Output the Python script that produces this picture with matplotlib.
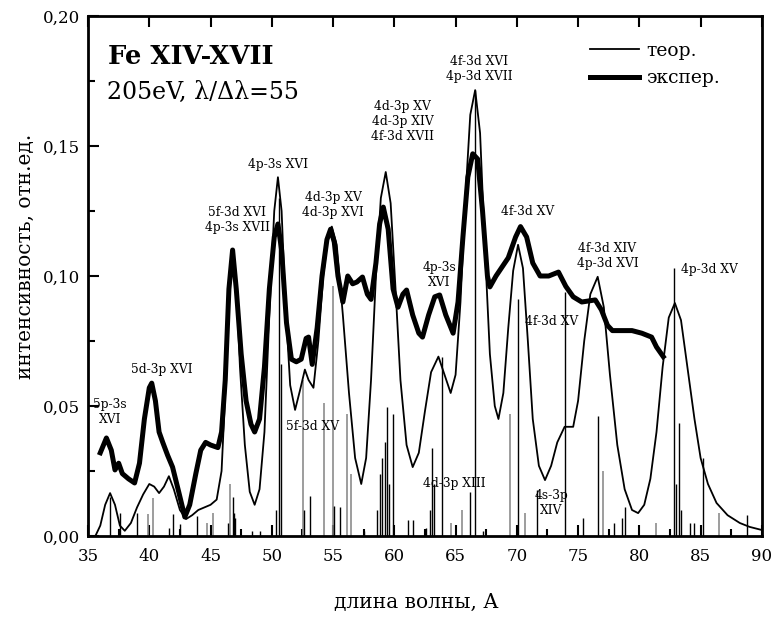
import numpy as np
import matplotlib
matplotlib.use("Agg")
import matplotlib.pyplot as plt
from matplotlib.ticker import MultipleLocator, FuncFormatter

plt.rcParams['font.family'] = ['DejaVu Serif']

# theoretical spectrum (thin line)
theor_wl = [35.6, 36.0, 36.4, 36.8, 37.2, 37.6, 38.0, 38.5, 39.0, 39.5, 40.0, 40.4, 40.8, 41.2, 41.6,
            42.0, 42.5, 43.0, 43.5, 44.0, 44.5, 45.0, 45.5, 45.9, 46.2, 46.5, 46.8, 47.1, 47.4, 47.8,
            48.2, 48.6, 49.0, 49.4, 49.8, 50.2, 50.5, 50.8, 51.1, 51.5, 51.9, 52.3, 52.7, 53.0, 53.4,
            53.8, 54.2, 54.6, 54.9, 55.3, 55.8, 56.3, 56.8, 57.3, 57.7, 58.1, 58.5, 58.9, 59.3, 59.7,
            60.1, 60.5, 61.0, 61.5, 62.0, 62.5, 63.0, 63.6, 64.1, 64.6, 65.0, 65.4, 65.8, 66.2, 66.6,
            67.0, 67.4, 67.8, 68.2, 68.5, 68.9, 69.3, 69.7, 70.1, 70.5, 70.9, 71.3, 71.8, 72.3, 72.8,
            73.3, 73.9, 74.6, 75.0, 75.5, 76.0, 76.6, 77.1, 77.6, 78.2, 78.8, 79.4, 79.9, 80.4, 80.9,
            81.4, 81.9, 82.4, 82.9, 83.4, 84.1, 84.5, 85.0, 85.6, 86.3, 87.2, 88.2, 89.0, 90.0]
theor_int = [0.000, 0.004, 0.012, 0.0165, 0.012, 0.004, 0.002, 0.005, 0.011, 0.016, 0.020, 0.019, 0.0165, 0.019, 0.023,
             0.018, 0.010, 0.0065, 0.008, 0.010, 0.011, 0.012, 0.014, 0.025, 0.055, 0.095, 0.110, 0.097, 0.065, 0.035,
             0.017, 0.012, 0.018, 0.040, 0.085, 0.125, 0.138, 0.125, 0.090, 0.058, 0.0485, 0.056, 0.064, 0.060, 0.057,
             0.075, 0.100, 0.116, 0.119, 0.112, 0.085, 0.055, 0.030, 0.020, 0.030, 0.060, 0.100, 0.130, 0.140, 0.128,
             0.095, 0.060, 0.035, 0.0265, 0.032, 0.048, 0.063, 0.069, 0.062, 0.055, 0.062, 0.090, 0.130, 0.162, 0.1715,
             0.155, 0.110, 0.070, 0.050, 0.045, 0.055, 0.080, 0.102, 0.112, 0.103, 0.075, 0.045, 0.027, 0.0215, 0.027,
             0.036, 0.042, 0.042, 0.052, 0.075, 0.093, 0.0997, 0.088, 0.062, 0.035, 0.018, 0.010, 0.0088, 0.012, 0.022,
             0.040, 0.065, 0.084, 0.0896, 0.083, 0.0588, 0.045, 0.030, 0.020, 0.0127, 0.008, 0.005, 0.0035, 0.0023]

# experimental spectrum (thick line)
exp_wl = [36.0, 36.5, 36.9, 37.2, 37.5, 37.8, 38.3, 38.8, 39.2, 39.6, 40.0, 40.2, 40.5, 40.8, 41.1,
          41.5, 41.9, 42.4, 42.9, 43.3, 43.8, 44.2, 44.6, 45.0, 45.6, 45.9, 46.2, 46.5, 46.8, 47.1,
          47.5, 47.9, 48.3, 48.6, 49.0, 49.4, 49.8, 50.2, 50.5, 50.8, 51.2, 51.6, 52.0, 52.4, 52.8,
          53.0, 53.3, 53.7, 54.1, 54.5, 54.8, 55.1, 55.4, 55.8, 56.2, 56.6, 56.95, 57.4, 57.8, 58.1,
          58.5, 58.8, 59.1, 59.5, 59.9, 60.3, 60.7, 61.0, 61.5, 62.0, 62.3, 62.8, 63.3, 63.7, 64.2,
          64.8, 65.2, 65.6, 66.0, 66.4, 66.8, 67.2, 67.6, 67.8, 68.3, 68.8, 69.3, 69.9, 70.3, 70.8,
          71.3, 71.9, 72.6, 73.4, 74.0, 74.6, 75.3, 76.0, 76.4, 76.9, 77.4, 77.8, 78.6, 79.4, 80.2,
          81.0, 81.4, 81.95]
exp_int = [0.032, 0.0377, 0.033, 0.0254, 0.028, 0.024, 0.022, 0.0204, 0.028, 0.045, 0.057, 0.0588, 0.052, 0.040, 0.036,
           0.031, 0.0265, 0.017, 0.0073, 0.012, 0.024, 0.033, 0.036, 0.035, 0.034, 0.040, 0.060, 0.095, 0.110, 0.095,
           0.070, 0.052, 0.043, 0.040, 0.045, 0.065, 0.095, 0.115, 0.120, 0.110, 0.082, 0.068, 0.067, 0.068, 0.076,
           0.0765, 0.066, 0.080, 0.100, 0.114, 0.118, 0.113, 0.100, 0.090, 0.100, 0.097, 0.0977, 0.0996, 0.093, 0.091,
           0.105, 0.120, 0.1265, 0.118, 0.095, 0.088, 0.093, 0.0946, 0.085, 0.078, 0.0765, 0.085, 0.092, 0.0927, 0.085,
           0.078, 0.090, 0.115, 0.138, 0.147, 0.145, 0.125, 0.100, 0.0958, 0.100, 0.1035, 0.107, 0.115, 0.119, 0.115,
           0.105, 0.100, 0.100, 0.1015, 0.096, 0.092, 0.090, 0.0905, 0.0908, 0.087, 0.081, 0.079, 0.079, 0.079, 0.078,
           0.0765, 0.0727, 0.069]

# line strengths (sticks)
stick_wl = [36.8, 37.6, 39.0, 41.6, 41.9, 42.5, 43.9, 46.4, 46.8, 46.9, 47.0, 48.4, 49.0, 50.35, 50.55,
            50.75, 52.6, 53.1, 55.1, 55.6, 57.5, 58.6, 58.8, 59.0, 59.2, 59.4, 59.6, 59.9, 61.1, 61.5,
            62.6, 62.9, 63.1, 63.2, 63.9, 66.2, 66.6, 67.2, 70.1, 71.65, 73.95, 75.4, 76.6, 77.9, 78.6,
            78.8, 82.8, 83.0, 83.2, 83.4, 84.1, 84.5, 85.2, 88.8]
stick_int = [0.015, 0.009, 0.009, 0.003, 0.0085, 0.0045, 0.0077, 0.005, 0.015, 0.009, 0.007, 0.002, 0.002, 0.010, 0.130,
             0.066, 0.010, 0.0154, 0.0115, 0.011, 0.002, 0.010, 0.024, 0.030, 0.036, 0.0496, 0.020, 0.047, 0.006, 0.006,
             0.003, 0.010, 0.034, 0.020, 0.069, 0.017, 0.1715, 0.002, 0.091, 0.0177, 0.094, 0.007, 0.046, 0.005, 0.007,
             0.011, 0.103, 0.020, 0.0435, 0.010, 0.005, 0.005, 0.030, 0.008]
grey_wl = [39.9, 40.3, 44.7, 45.2, 46.6, 52.55, 54.3, 55.0, 56.1, 56.5, 64.6, 65.5, 69.45, 70.7, 77.0, 81.4, 86.5]
grey_int = [0.0085, 0.0146, 0.005, 0.009, 0.020, 0.060, 0.051, 0.096, 0.047, 0.024, 0.005, 0.010, 0.047, 0.0088, 0.025,
            0.005, 0.009]

# transition labels: text, wavelength, intensity, alignment
labels = [
    ("5p-3s\nXVI", 36.8, 0.0475, 'center'),
    ("5d-3p XVI", 41.0, 0.064, 'center'),
    ("5f-3d XVI\n4p-3s XVII", 47.2, 0.1215, 'center'),
    ("4p-3s XVI", 50.5, 0.143, 'center'),
    ("4d-3p XV\n4d-3p XVI", 55.0, 0.1275, 'center'),
    ("4d-3p XV\n4d-3p XIV\n4f-3d XVII", 60.7, 0.1595, 'center'),
    ("4p-3s\nXVI", 63.7, 0.1005, 'center'),
    ("4f-3d XVI\n4p-3d XVII", 66.9, 0.1795, 'center'),
    ("4f-3d XV", 70.9, 0.125, 'center'),
    ("4f-3d XIV\n4p-3d XVI", 77.4, 0.1075, 'center'),
    ("4p-3d XV", 83.4, 0.1025, 'left'),
    ("4f-3d XV", 72.8, 0.0825, 'center'),
    ("5f-3d XV", 53.3, 0.042, 'center'),
    ("4d-3p XIII", 64.9, 0.020, 'center'),
    ("4s-3p\nXIV", 72.8, 0.0125, 'center'),
]

fig = plt.figure(figsize=(7.79, 6.18), dpi=100)
ax = fig.add_axes([0.113, 0.1327, 0.865, 0.8414])

ax.vlines(grey_wl, 0, grey_int, color='#8c8c8c', lw=1.2)
ax.vlines(stick_wl, 0, stick_int, color='black', lw=1.0)
ax.plot(theor_wl, theor_int, color='black', lw=1.3, label='теор.')
ax.plot(exp_wl, exp_int, color='black', lw=3.6, label='экспер.', solid_joinstyle='round')

for txt, x, y, ha in labels:
    ax.text(x, y, txt, ha=ha, va='center', fontsize=8.8, linespacing=1.2)

ax.text(36.63, 0.1846, "Fe XIV-XVII", fontsize=18.5, fontweight='bold', va='center')
ax.text(36.55, 0.1704, "205eV, λ/Δλ=55", fontsize=17, va='center')

ax.legend(loc='upper left', bbox_to_anchor=(0.745, 0.95), frameon=False, fontsize=13.5,
          handlelength=2.6, handletextpad=0.4, borderpad=0, borderaxespad=0, labelspacing=0.5)

ax.set_xlim(35, 90)
ax.set_ylim(0, 0.20)
ax.xaxis.set_major_locator(MultipleLocator(5))
ax.xaxis.set_minor_locator(MultipleLocator(2.5))
ax.yaxis.set_major_locator(MultipleLocator(0.05))
ax.yaxis.set_minor_locator(MultipleLocator(0.025))
ax.yaxis.set_major_formatter(FuncFormatter(lambda v, p: f"{v:.2f}".replace('.', ',')))
ax.tick_params(which='both', direction='in', width=1.5, labelsize=12)
ax.tick_params(axis='x', which='major', length=8, pad=9, top=True)
ax.tick_params(axis='x', which='minor', length=5)
ax.tick_params(axis='y', which='major', length=8, pad=6)
ax.tick_params(axis='y', which='minor', length=5)
for s in ax.spines.values():
    s.set_linewidth(2)

ax.set_xlabel("длина волны, А", fontsize=14.5, va='center')
ax.xaxis.set_label_coords(0.487, -0.128)
ax.set_ylabel("интенсивность, отн.ед.", fontsize=14.5, va='center')
ax.yaxis.set_label_coords(-0.0935, 0.538)

fig.savefig("out.png", dpi=100)
